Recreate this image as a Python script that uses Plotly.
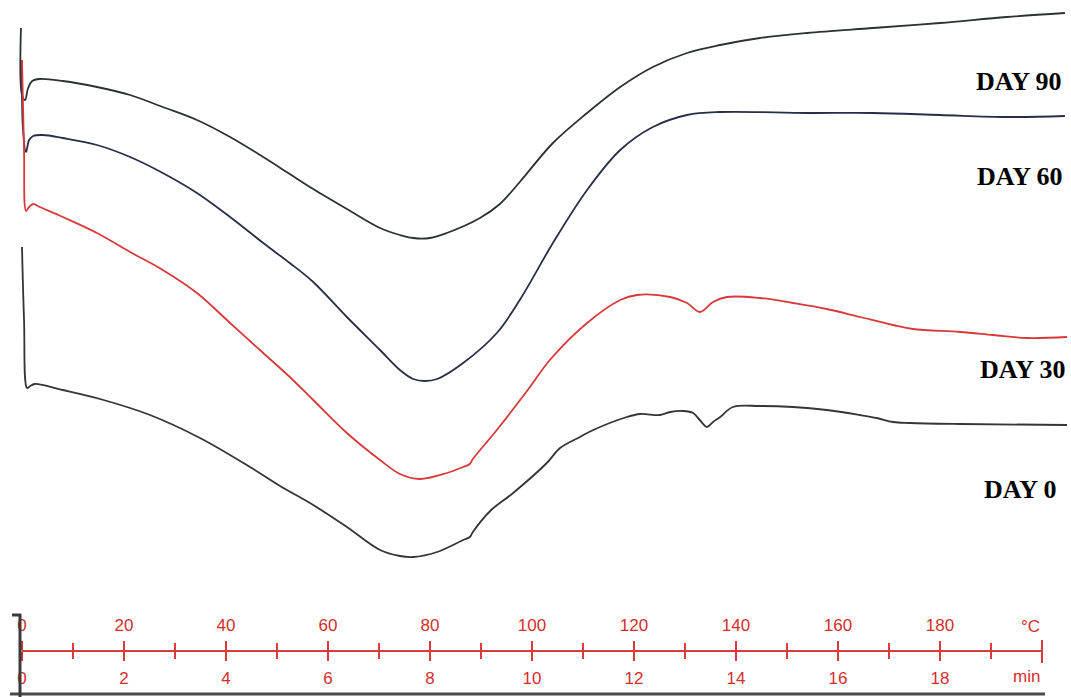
import plotly.graph_objects as go

# ---- data: DSC thermograms (temperature in °C, heat flow in arbitrary units, curves offset) ----
t_day90 = [-0.2, 0.0, 0.6, 1.2, 2.0, 3.5, 8.0, 14.7, 21.2, 27.6, 34.3, 40.8, 47.3, 52.5, 57.1,
           63.7, 70.2, 74.1, 76.7, 80.0, 83.3, 89.8, 93.7, 97.6, 104.1, 110.8, 117.3, 123.7,
           130.4, 136.9, 144.7, 153.9, 166.9, 180.0, 193.1, 204.5]
hf_day90 = [669, 602, 597, 609, 616, 618, 616, 610, 602, 590, 577, 560, 540, 523, 508,
            488, 469, 462, 459, 459, 464, 479, 493, 515, 554, 584, 610, 630,
            644, 652, 659, 664, 669, 674, 680, 684]

t_day60 = [0.0, 0.2, 0.8, 1.4, 2.2, 4.1, 8.0, 14.7, 21.2, 27.6, 34.3, 40.8, 47.3, 52.5, 57.1,
           63.7, 70.2, 74.1, 76.7, 79.0, 81.4, 86.5, 93.1, 97.6, 104.1, 110.8, 117.3, 123.7,
           130.4, 136.9, 153.9, 166.9, 180.0, 193.1, 204.5]
hf_day60 = [637, 567, 545, 557, 561, 562, 559, 552, 540, 524, 504, 480, 454, 434, 415,
            380, 347, 327, 318, 316, 318, 334, 364, 397, 454, 507, 547, 570,
            582, 585, 584, 584, 582, 580, 581]

t_day30 = [0.0, 0.4, 0.8, 1.4, 2.2, 3.5, 8.0, 14.7, 21.2, 27.6, 34.3, 40.8, 47.3, 52.5, 57.1,
           63.7, 70.2, 74.1, 78.0, 83.3, 86.5, 87.8, 88.4, 93.1, 99.6, 103.5, 110.8, 117.3,
           120.6, 127.1, 130.4, 132.9, 135.5, 138.2, 144.7, 151.2, 157.8, 164.3, 170.8, 174.7,
           183.9, 190.4, 197.1, 204.9]
hf_day30 = [637, 547, 486, 490, 493, 490, 480, 464, 445, 427, 404, 374, 344, 320, 297,
            264, 237, 223, 218, 224, 230, 233, 238, 267, 310, 337, 374, 397,
            402, 400, 394, 385, 395, 400, 399, 394, 388, 380, 372, 368,
            365, 362, 359, 360]

t_day0 = [0.0, 0.4, 1.0, 1.6, 2.5, 8.0, 15.3, 25.1, 34.9, 44.7, 50.6, 57.1, 63.7, 70.2, 74.1,
          76.7, 81.4, 86.5, 87.8, 88.4, 91.8, 96.3, 102.9, 105.5, 109.4, 112.0, 118.6, 121.2,
          125.1, 127.1, 129.6, 131.6, 132.9, 134.3, 135.5, 136.9, 139.4, 144.7, 151.2, 157.8,
          164.3, 167.6, 170.8, 174.1, 183.9, 204.9]
hf_day0 = [450, 377, 309, 311, 313, 307, 298, 282, 259, 230, 211, 192, 170, 147, 141,
           140, 145, 157, 160, 165, 186, 204, 234, 249, 260, 267, 280, 283,
           282, 285, 286, 284, 277, 270, 275, 280, 290, 291, 290, 287,
           282, 279, 275, 274, 273, 272]

series_names = ["DAY 90", "DAY 60", "DAY 30", "DAY 0"]
series_colors = ["#2c3230", "#2a2d48", "#d8393a", "#353535"]

temp_ticks = [0, 20, 40, 60, 80, 100, 120, 140, 160, 180, 200]
temp_labels = ["0", "20", "40", "60", "80", "100", "120", "140", "160", "180", ""]
time_ticks = [0, 2, 4, 6, 8, 10, 12, 14, 16, 18, 20]
time_labels = ["0", "2", "4", "6", "8", "10", "12", "14", "16", "18", ""]
temp_unit, time_unit = "°C", "min"

W, H = 1071, 697
RED = "#d83c3c"
LABEL_RED = "#d42e2e"

fig = go.Figure()
for t, hf, name, col in zip([t_day90, t_day60, t_day30, t_day0],
                            [hf_day90, hf_day60, hf_day30, hf_day0],
                            series_names, series_colors):
    fig.add_trace(go.Scatter(x=t, y=hf, mode="lines", name=name,
                             line=dict(color=col, width=1.8, shape="spline", smoothing=1.0),
                             showlegend=False))

# invisible helper traces so the two scale axes are drawn
fig.add_trace(go.Scatter(x=[0, 200], y=[None, None], xaxis="x2", mode="lines",
                         showlegend=False, hoverinfo="skip"))
fig.add_trace(go.Scatter(x=[0, 20], y=[None, None], xaxis="x3", mode="lines",
                         showlegend=False, hoverinfo="skip"))

x0_px, x200_px = 22, 1042
px_per_deg = (x200_px - x0_px) / 200.0
axis_y = (H - 651) / H

tick_font = dict(family="Liberation Sans", size=17, color=LABEL_RED)
fig.update_layout(
    width=W, height=H, autosize=False,
    margin=dict(l=0, r=0, t=0, b=0, pad=0, autoexpand=False),
    showlegend=False,
    paper_bgcolor="white", plot_bgcolor="rgba(0,0,0,0)",
    xaxis=dict(range=[-x0_px / px_per_deg, (W - x0_px) / px_per_deg], visible=False,
               domain=[0, 1], automargin=False),
    yaxis=dict(range=[0, H], visible=False, domain=[0, 1], automargin=False),
    xaxis2=dict(range=[0, 200], domain=[x0_px / W, x200_px / W], anchor="free",
                position=axis_y, side="top", automargin=False,
                showline=True, linecolor=RED, linewidth=2, showgrid=False, zeroline=False,
                ticks="outside", ticklen=9, tickwidth=2, tickcolor=RED,
                tickmode="array", tickvals=temp_ticks, ticktext=temp_labels,
                tickfont=tick_font, ticklabelstandoff=3,
                minor=dict(dtick=10, tick0=0, ticks="outside", ticklen=7, tickwidth=2,
                           tickcolor=RED, showgrid=False)),
    xaxis3=dict(range=[0, 20], domain=[x0_px / W, x200_px / W], anchor="free",
                position=axis_y, side="bottom", automargin=False,
                showline=True, linecolor=RED, linewidth=2, showgrid=False, zeroline=False,
                ticks="outside", ticklen=9, tickwidth=2, tickcolor=RED,
                tickmode="array", tickvals=time_ticks, ticktext=time_labels,
                tickfont=tick_font, ticklabelstandoff=3,
                minor=dict(dtick=1, tick0=0, ticks="outside", ticklen=7, tickwidth=2,
                           tickcolor=RED, showgrid=False)),
)

# unit labels, right-aligned to the scale end
fig.add_annotation(x=200, y=1 - 626 / H, xref="x2", yref="paper", text=temp_unit,
                   showarrow=False, xanchor="right", yanchor="middle",
                   font=tick_font)
fig.add_annotation(x=20, y=1 - 676 / H, xref="x3", yref="paper", text=time_unit,
                   showarrow=False, xanchor="right", yanchor="middle",
                   font=tick_font)

# end bar of the scale and frame lines of the scanned print (decorative)
fig.add_shape(type="line", xref="paper", yref="paper", x0=x200_px / W, x1=x200_px / W,
              y0=(H - 663) / H, y1=(H - 640) / H, line=dict(color=RED, width=2))
fig.add_shape(type="line", xref="paper", yref="paper", x0=10 / W, x1=1045 / W,
              y0=(H - 694) / H, y1=(H - 694) / H, line=dict(color="#4a4a4a", width=3))
fig.add_shape(type="line", xref="paper", yref="paper", x0=20 / W, x1=20 / W,
              y0=0, y1=(H - 614) / H, line=dict(color="#3a3a3a", width=3))
fig.add_shape(type="line", xref="paper", yref="paper", x0=12 / W, x1=21 / W,
              y0=(H - 615) / H, y1=(H - 615) / H, line=dict(color="#3a3a3a", width=3))

# curve labels
label_pos = [(1018, 81), (1019, 177), (1022, 369), (1020, 489)]
for name, (lx, ly) in zip(series_names, label_pos):
    fig.add_annotation(x=lx / W, y=1 - ly / H, xref="paper", yref="paper",
                       text="<b>" + name + "</b>", showarrow=False,
                       font=dict(family="Liberation Serif", size=26, color="black"),
                       xanchor="center", yanchor="middle")

fig.write_html("out.html")
